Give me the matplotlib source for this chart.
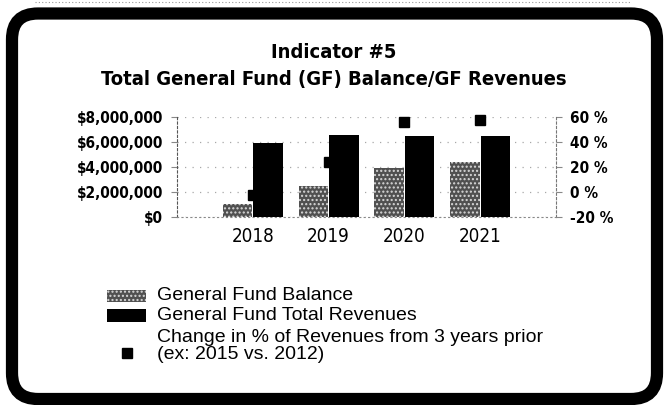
import numpy as np
import matplotlib
matplotlib.use("Agg")
import matplotlib.pyplot as plt
from matplotlib.patches import FancyBboxPatch, Rectangle
from matplotlib.lines import Line2D
from matplotlib.transforms import IdentityTransform
from matplotlib.ticker import FuncFormatter
from matplotlib.font_manager import FontProperties

years = ["2018", "2019", "2020", "2021"]
fund_balance = [1000000, 2500000, 3900000, 4400000]
total_revenues = [5900000, 6550000, 6500000, 6500000]
pct_change = [-2, 24, 56, 58]

title_lines = ["Indicator #5", "Total General Fund (GF) Balance/GF Revenues"]
legend_labels = ["General Fund Balance",
                 "General Fund Total Revenues",
                 "Change in % of Revenues from 3 years prior\n(ex: 2015 vs. 2012)"]

plt.rcParams['hatch.linewidth'] = 1.0

fig = plt.figure(figsize=(6.68, 4.05), dpi=100)
W, H = 668, 405

# plot area in pixel units
ax = fig.add_axes([177 / W, 1 - 217 / H, (556 - 177) / W, (217 - 117) / H])
x = np.arange(len(years))
bw = 0.39

ax.bar(x - 0.2, fund_balance, width=bw, color='#505050', hatch='....',
       edgecolor='#d8d8d8', linewidth=0, zorder=2)
ax.bar(x + 0.2, total_revenues, width=bw, color='black', linewidth=0, zorder=3)

ax.set_xlim(-1, 4)
ax.set_ylim(0, 8000000)
ax.set_yticks([0, 2000000, 4000000, 6000000, 8000000])
ax.yaxis.set_major_formatter(FuncFormatter(lambda v, p: "${:,.0f}".format(v)))
ax.set_xticks(x)
ax.set_xticklabels(years)

ax2 = ax.twinx()
ax2.plot(x, pct_change, linestyle='none', marker='s', markersize=7.2,
         color='black', zorder=2, clip_on=False)
ax2.set_ylim(-20, 60)
ax2.set_yticks([-20, 0, 20, 40, 60])
ax2.yaxis.set_major_formatter(FuncFormatter(lambda v, p: "{:.0f} %".format(v)))
ax2.grid(axis='y', color='#a8a8a8', linestyle=(0, (1, 5)), linewidth=0.9, zorder=0)
ax2.set_zorder(ax.get_zorder() - 1)
ax.patch.set_visible(False)

for a in (ax, ax2):
    for s in a.spines.values():
        s.set_visible(False)
    a.tick_params(axis='y', length=4, width=0.8, color='#888888', pad=6)
ax.spines['left'].set_visible(True)
ax.spines['left'].set_linestyle((0, (2, 2)))
ax.spines['left'].set_color('#555555')
ax2.spines['right'].set_visible(True)
ax2.spines['right'].set_linestyle((0, (2, 2)))
ax2.spines['right'].set_color('#777777')
ax.spines['bottom'].set_visible(True)
ax.spines['bottom'].set_linestyle((0, (1, 3)))
ax.spines['bottom'].set_color('#888888')
ax.tick_params(axis='x', length=0, pad=7)

tick_fp = FontProperties(family='DejaVu Sans', weight='bold', stretch='condensed', size=11)
for lab in ax.get_yticklabels() + ax2.get_yticklabels():
    lab.set_fontproperties(tick_fp)
year_fp = FontProperties(family='DejaVu Sans', stretch='condensed', size=13.5)
for lab in ax.get_xticklabels():
    lab.set_fontproperties(year_fp)

# title
title_fp = FontProperties(family='DejaVu Sans', weight='bold', stretch='condensed', size=14.5)
fig.text(0.5, 1 - 53 / H, title_lines[0], ha='center', va='center', fontproperties=title_fp)
fig.text(0.5, 1 - 79 / H, title_lines[1], ha='center', va='center', fontproperties=title_fp)

# legend drawn by hand
px = IdentityTransform()
fig.add_artist(Rectangle((107, H - 302), 39, 12, facecolor='#505050', hatch='....',
                         edgecolor='#d8d8d8', linewidth=0, transform=px))
fig.add_artist(Rectangle((107, H - 322), 39, 13, facecolor='black',
                         linewidth=0, transform=px))
fig.add_artist(Line2D([127], [H - 353], marker='s', markersize=6.5, color='black',
                      linestyle='none', transform=px))
leg_font = dict(family='Liberation Sans', fontsize=14, va='center', ha='left')
fig.text(157 / W, 1 - 295 / H, legend_labels[0], **leg_font)
fig.text(157 / W, 1 - 315 / H, legend_labels[1], **leg_font)
fig.text(157 / W, 1 - 346 / H, legend_labels[2], linespacing=1.05, **leg_font)

# rounded frame
fig.add_artist(FancyBboxPatch((12, 6), 645, 385.5,
                              boxstyle='round,pad=0,rounding_size=26',
                              facecolor='none', edgecolor='black', linewidth=8.8,
                              transform=px))
fig.add_artist(Line2D([35, 630], [H - 2, H - 2], color='#999999', linewidth=0.8,
                      linestyle=(0, (1, 2)), transform=px))

fig.savefig("out.png", dpi=100)
